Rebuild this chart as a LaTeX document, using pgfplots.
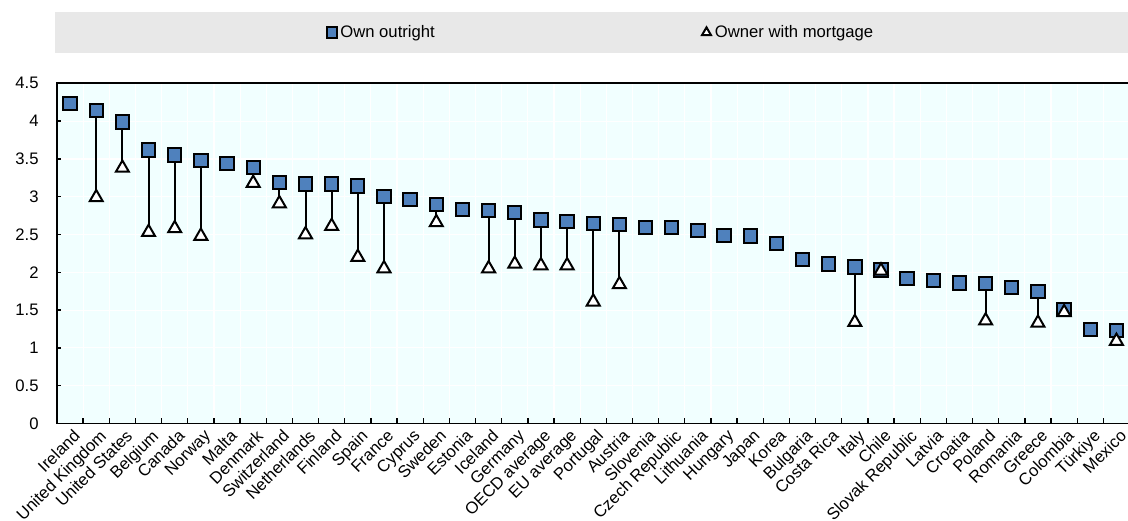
\documentclass[border=0pt]{standalone}
\usepackage{fontspec}
\setmainfont{Liberation Sans}
\usepackage{pgfplots}
\pgfplotsset{compat=1.18}
\usepackage{pgfplotstable}

\definecolor{ownblue}{RGB}{79,129,189}
\definecolor{bgcyan}{RGB}{241,255,255}
\definecolor{leggray}{RGB}{232,232,232}

% own outright / owner with mortgage; nan = no value shown
\pgfplotstableread{
x own mort
0 4.23 nan
1 4.14 2.99
2 3.99 3.38
3 3.62 2.53
4 3.55 2.58
5 3.48 2.48
6 3.44 nan
7 3.39 3.18
8 3.19 2.91
9 3.17 2.50
10 3.17 2.61
11 3.14 2.20
12 3.00 2.05
13 2.96 nan
14 2.90 2.66
15 2.83 nan
16 2.82 2.05
17 2.79 2.11
18 2.69 2.09
19 2.67 2.09
20 2.65 1.61
21 2.63 1.84
22 2.59 nan
23 2.59 nan
24 2.55 nan
25 2.49 nan
26 2.48 nan
27 2.38 nan
28 2.17 nan
29 2.11 nan
30 2.07 1.34
31 2.03 2.02
32 1.92 nan
33 1.89 nan
34 1.86 nan
35 1.85 1.36
36 1.80 nan
37 1.75 1.33
38 1.51 1.47
39 1.24 nan
40 1.23 1.09
}\datatable

% drop lines between the two values
\pgfplotstableread{
x y
1 4.14
1 2.99
1 nan
2 3.99
2 3.38
2 nan
3 3.62
3 2.53
3 nan
4 3.55
4 2.58
4 nan
5 3.48
5 2.48
5 nan
7 3.39
7 3.18
7 nan
8 3.19
8 2.91
8 nan
9 3.17
9 2.50
9 nan
10 3.17
10 2.61
10 nan
11 3.14
11 2.20
11 nan
12 3.00
12 2.05
12 nan
14 2.90
14 2.66
14 nan
16 2.82
16 2.05
16 nan
17 2.79
17 2.11
17 nan
18 2.69
18 2.09
18 nan
19 2.67
19 2.09
19 nan
20 2.65
20 1.61
20 nan
21 2.63
21 1.84
21 nan
30 2.07
30 1.34
30 nan
31 2.03
31 2.02
31 nan
35 1.85
35 1.36
35 nan
37 1.75
37 1.33
37 nan
38 1.51
38 1.47
38 nan
40 1.23
40 1.09
}\droplines

\begin{document}
\begin{tikzpicture}
\fill[leggray] (33pt,280.8pt) rectangle (676.8pt,305.4pt);
\begin{axis}[
  at={(34.2pt,58.5pt)}, anchor=south west,
  scale only axis,
  width=643.5pt, height=204.1pt,
  xmin=-0.5, xmax=40.5,
  ymin=0, ymax=4.5,
  ytick={0,0.5,...,4.5},
  xtick={0,...,40},
  xticklabels={Ireland,United Kingdom,United States,Belgium,Canada,Norway,Malta,Denmark,Switzerland,Netherlands,Finland,Spain,France,Cyprus,Sweden,Estonia,Iceland,Germany,OECD average,EU average,Portugal,Austria,Slovenia,Czech Republic,Lithuania,Hungary,Japan,Korea,Bulgaria,Costa Rica,Italy,Chile,Slovak Republic,Latvia,Croatia,Poland,Romania,Greece,Colombia,Türkiye,Mexico},
  minor xtick={-0.5,0.5,...,40.5},
  major x tick style={draw=none},
  minor x tick style={black, line width=0.8pt},
  minor tick length=3pt,
  major tick length=2.5pt,
  y tick style={black, line width=0.8pt},
  tick align=inside,
  tick pos=left,
  xmajorgrids=false, xminorgrids=true, ymajorgrids=true,
  grid style={white, line width=0.7pt},
  minor grid style={white, line width=0.7pt},
  axis background/.style={fill=bgcyan},
  axis line style={black, line width=1pt},
  /pgf/number format/assume math mode=true,
  ticklabel style={font=\fontsize{10}{12}\selectfont},
  xticklabel style={rotate=45, anchor=north east, yshift=-2pt, inner sep=1pt},
  yticklabel style={xshift=-7.5pt},
  unbounded coords=jump,
  legend columns=2,
  legend cell align=left,
  legend image code/.code={
    \path (0pt,0pt) (7.6pt,0pt);
    \draw[#1, mark size=3.1pt] plot coordinates {(3.8pt,0pt)};
  },
  legend style={at={(0.2499,1.1494)}, anchor=west, draw=none, fill=none,
    inner sep=0pt, font=\fontsize{10}{12}\selectfont,
    nodes={inner sep=1pt},
    /tikz/every even column/.append style={column sep=158pt}},
]
\addplot[black, line width=1.2pt, forget plot] table[x=x, y=y] {\droplines};
\addplot[only marks, mark=square*, mark size=4pt,
  mark options={fill=ownblue, draw=black, line width=1.2pt}]
  table[x=x, y=own] {\datatable};
\addlegendentry{Own outright}
\addplot[only marks, mark=triangle*, mark size=4.5pt,
  mark options={fill=white, draw=black, line width=1.2pt}]
  table[x=x, y=mort] {\datatable};
\addlegendentry{Owner with mortgage}
\end{axis}
\pgfresetboundingbox
\path (0,0) rectangle (676.8pt,312.6pt);
\end{tikzpicture}
\end{document}
